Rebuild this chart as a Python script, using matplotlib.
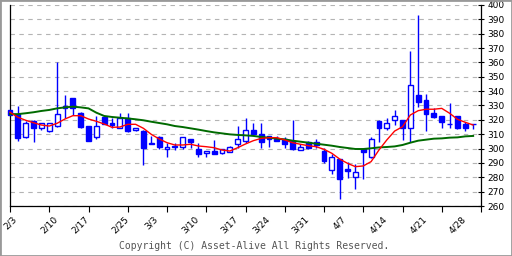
import numpy as np
import matplotlib
matplotlib.use('Agg')
import matplotlib.pyplot as plt
from matplotlib.patches import Rectangle

# daily prices (2/3 .. 5/1)
opens = [327, 324, 307.8, 319.4, 314.1, 312, 315.7, 329.7, 335.2, 324.8,
         315.7, 308.1, 322.2, 317.6, 314.1, 321, 312.7, 312.4, 303.5, 307.9,
         299.7, 301, 300.9, 306.4, 299.7, 296.7, 298.3, 296.7, 297.8, 303,
         305.3, 312.7, 309.9, 308.6, 306.4, 306.4, 305.5, 298.8, 304.8, 304.8,
         298.3, 284.9, 292.7, 285.8, 280.4, 299.5, 293.9, 319.2, 314.1, 319.7,
         319.7, 314.1, 337.3, 333.8, 324.6, 322.7, 317, 322.7, 317.1, 317]
highs = [327, 329.7, 319.2, 319.6, 318, 317.8, 360, 337.3, 335.2, 325.7,
         315.7, 322.7, 322.5, 321, 324.6, 324.6, 314.5, 312.6, 308.9, 309,
         303.7, 303.7, 308, 306.5, 303.7, 298.5, 306, 299.8, 301.8, 315.7,
         321, 317.6, 317.6, 308.8, 308.8, 308.3, 320, 303, 305, 306.4,
         300.2, 296.2, 293, 290.5, 289.3, 300, 307.9, 319.9, 321, 326.9,
         320, 368.2, 393, 338, 328, 322.8, 331.5, 322.8, 318.8, 317.3]
lows = [323.4, 305.5, 307.5, 304.8, 312.7, 311.8, 315, 321, 323.4, 314.5,
        305.5, 306.4, 317, 314, 314, 311.7, 312.5, 288.6, 303.5, 299.5,
        294.3, 299, 299.7, 300.2, 294.3, 294.3, 296.4, 296, 297.4, 300.2,
        303.7, 309.5, 300.2, 300.9, 305.3, 300.2, 299.3, 298.8, 299.5, 300.2,
        289.7, 282, 264.7, 279.5, 271.6, 278.6, 293.2, 304.8, 312.7, 316.4,
        306, 304.8, 329.2, 312.2, 321, 314.1, 314.1, 313.6, 312.4, 313.6]
closes = [323.4, 307.6, 317.6, 314.5, 317.6, 317.6, 323.9, 328, 328, 315.2,
          305.5, 315.7, 317.1, 316.6, 321.5, 312.4, 314.1, 300.6, 303.9, 300.9,
          301.3, 301.5, 307.9, 304.8, 296.4, 298.3, 296.4, 299.7, 300.9, 306.4,
          312.7, 309.9, 304.8, 306.5, 305.5, 303.4, 299.5, 300.9, 300.6, 302.5,
          291.6, 293.9, 278.6, 284.6, 283.5, 297.8, 306.4, 314.5, 317.6, 322.7,
          314.5, 344.3, 332.7, 323.9, 322.2, 318.7, 317.2, 314.5, 314.5, 317.2]

ma_short = [325.3, 321.8, 319.7, 318, 316.4, 315.7, 317.6, 320.6, 322.9, 322.9,
            320.6, 319, 317.1, 314.8, 315, 316.9, 316.9, 314.1, 309.9, 306.7,
            304.1, 302.5, 302.5, 303, 301.8, 301.3, 300.6, 299, 298.3, 300.6,
            303.2, 305.5, 307.1, 307.6, 307.6, 306, 304.1, 303, 302, 301.3,
            299.5, 296.7, 292.7, 289.7, 287.4, 287.9, 290.9, 299, 306, 312.2,
            315.2, 323.4, 326.4, 327.4, 327.4, 328, 324.6, 320.4, 318.3, 316.4]
ma_long = [324, 324, 324.6, 325.3, 326.2, 326.9, 328, 328.7, 329.2, 328.7,
           328, 325, 322.7, 322, 321.5, 321, 320.4, 319.7, 318.7, 317.8,
           316.9, 315.7, 315, 314.1, 313.2, 312.2, 311.3, 310.6, 309.9, 309.5,
           309.2, 308.8, 308.1, 307.6, 306.9, 306.4, 305.5, 304.8, 304.1, 303.4,
           302.7, 302, 301.1, 300.4, 299.7, 299.7, 300.2, 300.8, 301.1, 301.5,
           302.5, 304.1, 305.5, 306.2, 306.9, 307.1, 307.6, 307.8, 308.5, 308.8]

date_labels = ['2/3', '2/10', '2/17', '2/25', '3/3', '3/10', '3/17',
               '3/24', '3/31', '4/7', '4/14', '4/21', '4/28']
date_idx = [0, 5, 9, 14, 18, 23, 28, 32, 37, 42, 47, 52, 57]

fig = plt.figure(figsize=(5.12, 2.56), dpi=100)
ax = fig.add_axes([10 / 512, 50 / 256, 471 / 512, 201 / 256])

x = np.arange(len(opens))
o = np.array(opens)
c = np.array(closes)
up = c >= o

# wicks first, bodies on top
ax.vlines(x, lows, highs, color='#0000ff', lw=1.0, zorder=2, clip_on=False)
bottom = np.minimum(o, c)
height = np.maximum(np.abs(c - o), 0.3)
ax.bar(x[up], height[up], bottom=bottom[up], width=0.62, color='white',
       edgecolor='#0000ff', linewidth=1.0, zorder=3, clip_on=False)
ax.bar(x[~up], height[~up], bottom=bottom[~up], width=0.62, color='#0000ff',
       edgecolor='#0000ff', linewidth=1.0, zorder=3, clip_on=False)

ax.plot(x, ma_long, color='#006a00', lw=1.4, zorder=4, clip_on=False)
ax.plot(x, ma_short, color='#ff0000', lw=1.0, zorder=5, clip_on=False)

ax.set_xlim(0, 60)
ax.set_ylim(260, 400)

# y axis on the right
ax.yaxis.tick_right()
ax.set_yticks(np.arange(260, 401, 10))
ax.tick_params(axis='y', direction='inout', length=5, width=0.8, pad=2,
               labelsize=6.5)
ax.grid(axis='y', color='#b4b4b4', linestyle=(0, (4, 4)), lw=0.8, zorder=0)

# x axis: date labels at week starts, plain ticks every 5 bars
ax.xaxis.remove_overlapping_locs = False
ax.set_xticks(date_idx, date_labels)
ax.tick_params(axis='x', which='major', length=0, pad=6, labelsize=6.5,
               labelrotation=45)
ax.set_xticks(np.arange(0, 61, 5), minor=True)
ax.tick_params(axis='x', which='minor', direction='out', length=4.5, width=0.8)

ax.spines['top'].set_visible(False)
for s in ['left', 'right', 'bottom']:
    ax.spines[s].set_linewidth(0.9)

fig.text(254 / 512, 1 - 246 / 256, 'Copyright (C) Asset-Alive All Rights Reserved.',
         ha='center', va='center', fontsize=7, color='#555555',
         family='DejaVu Sans Mono')

fig.patches.append(Rectangle((0, 0), 1, 1, transform=fig.transFigure,
                             fill=False, edgecolor='#999999', lw=2))

fig.savefig('out.png', dpi=100)
